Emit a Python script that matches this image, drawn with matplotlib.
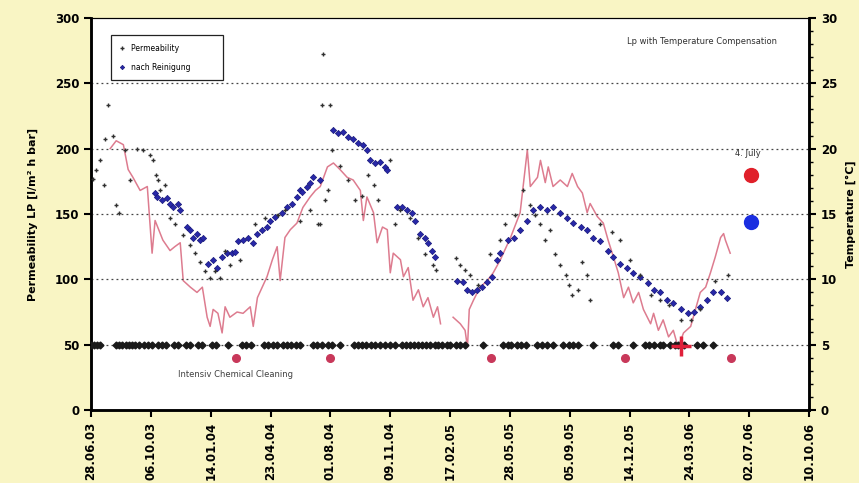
import numpy as np
import matplotlib.pyplot as plt
import matplotlib.dates as mdates
from datetime import datetime, timedelta

plt.rcParams['font.family'] = ['Liberation Sans Narrow', 'DejaVu Sans']

start = datetime(2003, 6, 28)
tick_labels = ['28.06.03', '06.10.03', '14.01.04', '23.04.04', '01.08.04', '09.11.04',
               '17.02.05', '28.05.05', '05.09.05', '14.12.05', '24.03.06', '02.07.06', '10.10.06']

# raw permeability (days after 28.06.03, l/m2 h bar)
perm_days = [3, 8, 15, 22, 28, 23, 37, 42, 47, 57, 65, 77, 87, 99, 104, 109, 112, 115, 124, 132,
             140, 154, 166, 174, 182, 191, 199, 207, 216, 224, 232, 249, 274, 291, 313, 324, 349, 366,
             380, 388, 386, 400, 391, 396, 383, 403, 416, 430, 441, 453, 463, 472, 480, 500, 508, 517,
             533, 547, 558, 572, 577, 609, 617, 625, 634, 647, 667, 684, 692, 709, 722, 734, 742, 751,
             759, 767, 776, 784, 793, 798, 804, 814, 821, 828, 834, 851, 871, 884, 901, 918, 935, 951,
             965, 985, 1002, 1018, 1043, 1065]
perm_vals = [177, 184, 191, 172, 233, 207, 210, 157, 151, 199, 176, 200, 199, 195, 191, 180, 176, 168,
             172, 147, 142, 134, 126, 120, 113, 106, 101, 106, 101, 122, 111, 115, 142, 147, 149, 153,
             145, 153, 142, 272, 233, 233, 161, 168, 142, 199, 187, 176, 161, 164, 180, 172, 161, 191,
             142, 153, 147, 132, 119, 111, 107, 116, 111, 107, 103, 96, 119, 130, 142, 149, 168, 157,
             149, 142, 130, 138, 119, 111, 103, 96, 88, 92, 113, 103, 84, 142, 136, 130, 115, 103, 88,
             84, 80, 69, 69, 77, 99, 103]

# permeability after cleaning
clean_perm_days = [107, 110, 119, 127, 132, 137, 145, 149, 161, 166, 171, 177, 182, 187, 196, 204,
                   211, 219, 227, 236, 241, 246, 254, 263, 271, 278, 286, 294, 299, 308, 319, 328,
                   336, 344, 349, 353, 361, 366, 371, 383,
                   405, 413, 421, 430, 438, 446, 455, 461, 466, 475, 483, 492, 495,
                   512, 520, 528, 537, 542, 550, 558, 563, 570, 575,
                   612, 622, 629, 637, 645, 654, 662, 670, 679,
                   684, 696, 706, 717, 729, 739, 751, 762, 772, 784, 796, 806, 818, 829, 839, 851,
                   863, 873, 884, 896, 906, 918, 930, 940, 951, 963, 973, 985, 997, 1007, 1018,
                   1030, 1040, 1052, 1063]
clean_perm_vals = [166, 163, 161, 162, 158, 155, 158, 153, 140, 138, 132, 135, 130, 132, 112, 115,
                   109, 117, 120, 120, 121, 129, 130, 132, 128, 135, 138, 140, 145, 148, 151, 155,
                   158, 163, 168, 167, 171, 174, 178, 176,
                   214, 212, 213, 209, 207, 204, 203, 199, 191, 189, 190, 186, 184,
                   155, 155, 153, 151, 145, 135, 132, 128, 122, 117,
                   99, 98, 92, 90, 92, 94, 98, 102, 115,
                   120, 130, 132, 138, 145, 153, 155, 153, 155, 151, 147, 143, 140, 138, 132, 129,
                   122, 117, 112, 109, 105, 102, 97, 92, 90, 84, 82, 77, 74, 75, 79,
                   84, 90, 90, 86]

# water temperature (deg C), gap in early 2005
temp_days = [32, 42, 54, 62, 70, 82, 94, 102, 107, 120, 132, 140, 149, 154, 166, 177, 186, 194, 199,
             204, 212, 219, 224, 232, 244, 254, 266, 271, 278, 286, 294, 303, 311, 316, 324, 333, 344,
             354, 366, 375, 383, 395, 405, 416, 428, 438, 450, 455, 461, 472, 478, 487, 495, 500, 505,
             517, 522, 530, 538, 547, 555, 563, 572, 579, 584, 595,
             605, 617, 625, 629, 632, 639, 650, 662, 672, 684, 701, 717, 729, 734, 746, 751, 759, 764,
             772, 784, 796, 804, 813, 821, 829, 834, 846, 856, 864, 873, 881, 890, 898, 906, 915, 923,
             935, 940, 948, 956, 965, 973, 981, 990, 1002, 1010, 1018, 1027, 1035, 1043, 1052, 1057,
             1060, 1068]
temp_vals = [20.0, 20.6, 20.3, 18.4, 17.8, 16.8, 17.1, 12.0, 14.5, 13.0, 12.2, 12.5, 12.8, 9.9, 9.4,
             9.0, 9.4, 7.1, 6.4, 7.7, 7.4, 5.9, 7.9, 7.1, 7.5, 7.4, 7.9, 6.4, 8.6, 9.4, 10.2, 11.5,
             12.5, 9.9, 13.2, 13.8, 14.3, 15.5, 16.3, 16.8, 17.1, 18.6, 18.9, 18.4, 17.8, 17.6, 16.8,
             14.5, 16.3, 15.1, 12.8, 14.0, 13.8, 10.5, 12.0, 11.5, 10.2, 10.9, 8.4, 9.2, 7.9, 8.6,
             7.1, 7.9, 6.6, np.nan,
             7.1, 6.6, 6.1, 4.8, 7.7, 8.4, 9.4, 9.9, 10.5, 11.5, 13.2, 15.1, 19.9, 17.1, 17.8, 19.1,
             17.4, 18.6, 17.1, 17.6, 17.1, 18.1, 17.1, 16.6, 15.1, 15.8, 14.8, 14.3, 13.0, 11.7, 10.5,
             8.6, 9.4, 8.2, 9.0, 7.7, 6.6, 7.4, 6.1, 6.9, 5.6, 6.1, 4.8, 5.9, 6.4, 7.7, 9.0, 9.4, 10.5,
             11.7, 13.2, 13.5, 13.0, 12.0]

# routine cleanings (plotted on the 50 line) and intensive chemical cleanings
routine_days = [0, 5, 10, 15, 42, 47, 52, 59, 64, 69, 74, 80, 89, 95, 102, 112, 119, 125, 139, 145,
                159, 166, 179, 186, 202, 209, 229, 252, 259, 268, 289, 296, 304, 311, 321, 328, 334,
                343, 349, 371, 378, 386, 396, 403, 416, 440, 446, 453, 460, 468, 475, 483, 492, 500,
                508, 520, 527, 533, 540, 547, 553, 560, 567, 574, 580, 587, 594, 600, 609, 617, 625,
                655, 689, 696, 702, 711, 719, 727, 746, 754, 762, 772, 789, 798, 806, 814, 838, 873,
                881, 906, 925, 933, 941, 950, 956, 968, 975, 981, 990, 1013, 1022, 1040]
routine_level = 50
icc_days = [242, 400, 669, 893, 1069]
icc_level = 40
flag_day, flag_level = 986, 49

# 4 July 2006 measurement
july_day = 1102
july_temp = 18.0
july_perm = 144

to_date = lambda days: [start + timedelta(days=d) for d in days]

fig = plt.figure(figsize=(8.59, 4.83), dpi=100, facecolor='#f9f5c4')
ax = fig.add_axes([0.106, 0.151, 0.836, 0.812])
ax2 = ax.twinx()

ax2.plot(to_date(temp_days), temp_vals, color='#d2506a', lw=1.1, alpha=0.75, zorder=2)
ax2.set_ylim(0, 30)

h_clean, = ax.plot(to_date(clean_perm_days), clean_perm_vals, 'D', color='#2828a8', ms=3.2,
                   mec='#18187a', mew=0.5, zorder=4)
h_perm, = ax.plot(to_date(perm_days), perm_vals, '+', color='#303030', ms=3.5, mew=1.0, zorder=5)
ax.plot(to_date(routine_days), [routine_level] * len(routine_days), 'D', color='#1a1a1a', ms=3.5,
        zorder=5)
ax.plot(to_date(icc_days), [icc_level] * len(icc_days), 'o', color='#c8385a', ms=5.5, zorder=5)
ax.plot(to_date([flag_day]), [flag_level], '+', color='#e0203a', ms=14, mew=2.5, zorder=6)
ax.plot(to_date([july_day]), [july_perm], 'o', color='#1a2ee0', ms=10, zorder=6)
ax2.plot(to_date([july_day]), [july_temp], 'o', color='#e0202a', ms=10, zorder=6)
ax2.text(start + timedelta(days=july_day - 4), 19.3, '4. July', fontsize=6, ha='center',
         va='bottom', color='#303030')

# permeability axes drawn above the temperature axes, white plot area behind both
ax2.set_zorder(1)
ax.set_zorder(2)
ax.patch.set_visible(False)
ax2.patch.set_visible(True)
ax2.patch.set_facecolor('white')

ax.set_ylim(0, 300)
ax.set_yticks(np.arange(0, 301, 50))
for yg in range(50, 300, 50):
    ax.axhline(yg, color='#444444', ls=(0, (1.5, 2.5)), lw=0.9, zorder=1)

ticks = to_date(range(0, 1201, 100))
ax.set_xlim(ticks[0], ticks[-1])
ax.set_xticks(ticks)
ax.set_xticklabels(tick_labels, rotation=90)
ax2.set_yticks(np.arange(0, 31, 5))
ax2.set_yticks(np.arange(0, 31, 1), minor=True)

for a in (ax, ax2):
    a.tick_params(labelsize=8.5, width=1.5, length=5, direction='out')
    for lab in a.get_xticklabels() + a.get_yticklabels():
        lab.set_fontweight('bold')
    for side in ('left', 'right', 'bottom'):
        a.spines[side].set_linewidth(1.8)
    a.spines['top'].set_linewidth(0.8)
ax2.tick_params(which='minor', length=3, width=1.0)

ax.set_ylabel('Permeability LP [l/m² h bar]', fontsize=8, fontweight='bold', labelpad=12)
ax2.set_ylabel('Temperature [°C]', fontsize=8, fontweight='bold', labelpad=6)

ax.text(0.955, 0.94, 'Lp with Temperature Compensation', transform=ax.transAxes, fontsize=6,
        ha='right', va='center', color='#303030')
ax.text(start + timedelta(days=242), 27, 'Intensiv Chemical Cleaning', fontsize=6, ha='center',
        va='center', color='#404040')

leg = ax.legend([h_perm, h_clean], ['Permeability', 'nach Reinigung'], loc='upper left',
                bbox_to_anchor=(0.022, 0.965), fontsize=5.5, frameon=True, fancybox=False,
                edgecolor='#222222', handlelength=0.8, borderpad=1.1, labelspacing=1.3,
                markerscale=0.7, framealpha=1)
leg.get_frame().set_linewidth(0.9)
# widen the legend frame a little to the right
leg._legend_box.align = 'left'
for t in leg.get_texts():
    t.set_text(t.get_text() + '          ')

fig.savefig('out.png', dpi=100, facecolor=fig.get_facecolor())
